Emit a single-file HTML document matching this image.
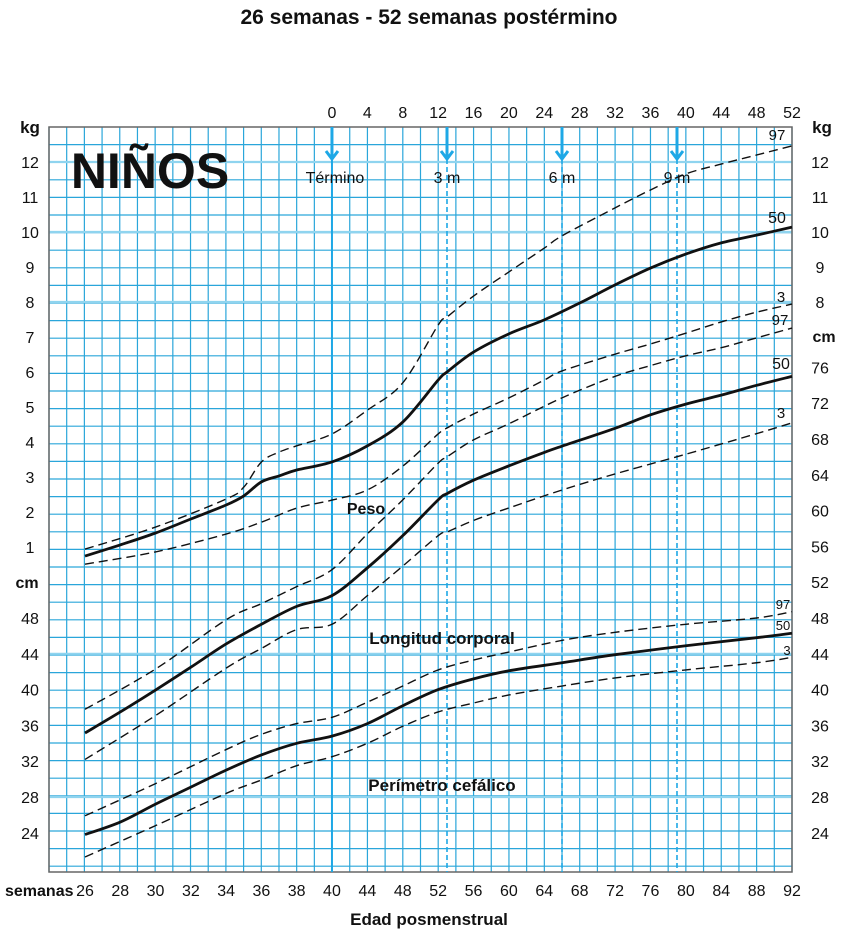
<!DOCTYPE html>
<html><head><meta charset="utf-8"><style>
body{margin:0;background:#fff}
svg{display:block;font-family:"Liberation Sans","DejaVu Sans",sans-serif}
</style></head><body>
<svg id="c" width="858" height="943" viewBox="0 0 858 943"></svg>
<script>
// ---- data ----
const weightAgesP50=[26,28,30,32,34,35,36,37,38,40,44,48,52,53,56,60,64,68,72,76,80,84,88,92];
const weightP50=[0.74,1.06,1.40,1.80,2.20,2.46,2.86,3.03,3.20,3.43,3.89,4.57,5.77,6.00,6.57,7.09,7.49,7.97,8.49,8.97,9.37,9.69,9.91,10.14];
const weightAgesP97=[26,30,34,35,36,37,38,40,44,48,52,53,56,60,64,66,72,76,80,84,88,92];
const weightP97=[0.94,1.57,2.37,2.71,3.43,3.71,3.89,4.23,4.91,5.69,7.34,7.57,8.17,8.86,9.54,9.89,10.69,11.2,11.66,11.94,12.2,12.46];
const weightAgesP3=[26,30,34,36,38,40,44,48,52,53,56,60,64,66,72,76,80,84,88,92];
const weightP3=[0.51,0.86,1.37,1.71,2.11,2.34,2.63,3.31,4.23,4.4,4.8,5.26,5.77,6.03,6.51,6.8,7.11,7.43,7.71,7.94];
const lengthAgesP50=[26,28,30,32,34,36,38,40,44,48,52,53,56,60,64,66,72,76,80,84,88,92];
const lengthP50=[35.15,37.5,39.95,42.5,45.1,47.3,49.3,50.5,53.6,57.2,61.2,61.9,63.4,65.0,66.5,67.2,69.2,70.7,71.9,72.9,74.0,75.0];
const lengthAgesP97=[26,30,34,36,38,40,44,48,52,53,56,60,66,72,76,80,84,88,92];
const lengthP97=[37.8,42.3,47.8,49.6,51.5,53.4,57.4,61.2,65.3,66.0,67.9,69.7,72.6,75.0,76.2,77.3,78.2,79.3,80.4];
const lengthAgesP3=[26,30,34,36,38,40,44,48,52,53,56,60,66,72,80,88,92];
const lengthP3=[32.2,37.1,42.4,44.6,46.7,47.3,50.5,53.8,57.2,57.6,58.9,60.3,62.3,64.1,66.3,68.6,69.8];
const headAgesP50=[26,28,30,32,34,36,38,40,44,48,52,56,60,66,72,80,88,92];
const headP50=[23.8,25.2,27.2,29.1,31.0,32.7,34.0,34.8,36.2,38.2,40.0,41.2,42.1,43.0,43.9,44.9,45.8,46.3];
const headAges=[26,30,34,36,38,40,44,48,52,56,60,66,72,80,88,92];
const headP97=[25.9,29.5,33.3,35.0,36.2,36.9,38.6,40.4,42.2,43.3,44.2,45.5,46.4,47.3,48.0,48.7];
const headP3=[21.3,24.8,28.4,29.9,31.5,32.5,34.0,35.9,37.5,38.5,39.4,40.4,41.3,42.2,43.0,43.6];
const bottomTicks=[26,28,30,32,34,36,38,40,44,48,52,56,60,64,68,72,76,80,84,88,92];
const topTicks=[0,4,8,12,16,20,24,28,32,36,40,44,48,52];
const kgLeft=[1,2,3,4,5,6,7,8,9,10,11,12];
const kgRight=[8,9,10,11,12];
const cmLeft=[24,28,32,36,40,44,48];
const cmRight=[24,28,32,36,40,44,48,52,56,60,64,68,72,76];
const markers=[{w:40,t:"Término",solid:true},{w:53,t:"3 m"},{w:66,t:"6 m"},{w:79,t:"9 m"}];

// ---- axes ----
const L=49,R=792,T=127,B=872;
function xs(w){return w<=40?85+(w-26)*17.64:332+(w-40)*8.846;}
function yk(k){return 162+(12-k)*35;}
function yc(c){return 618+(48-c)*8.95;}
const NS="http://www.w3.org/2000/svg",svg=document.getElementById('c');
function el(tag,attrs,txt){const e=document.createElementNS(NS,tag);for(const k in attrs)e.setAttribute(k,attrs[k]);if(txt!==undefined)e.textContent=txt;svg.appendChild(e);return e;}
function txt(x,y,s,size,anchor,weight,name){const e=el('text',{x:x,y:y,'font-size':size,'text-anchor':anchor||'middle','font-weight':weight||'normal',fill:'#111'},s);

return e;}

// grid
for(let i=0;i<=42;i++){const x=L+i*(R-L)/42;const g=el('line',{x1:x,y1:T,x2:x,y2:B,stroke:'#2aa6da','stroke-width':1.2});

}
for(let y=T+17.6;y<B;y+=17.6){const g=el('line',{x1:L,y1:y,x2:R,y2:y,stroke:'#2aa6da','stroke-width':1.2});

}
[12,10,8].forEach(k=>{const g=el('line',{x1:L,y1:yk(k),x2:R,y2:yk(k),stroke:'#8fd4ef','stroke-width':2.2});

});
[28,44].forEach(c=>{const g=el('line',{x1:L,y1:yc(c),x2:R,y2:yc(c),stroke:'#8fd4ef','stroke-width':2.2});

});
let bd=el('rect',{x:L,y:T,width:R-L,height:B-T,fill:'none',stroke:'#666','stroke-width':1.5});



// markers
markers.forEach(m=>{const x=xs(m.w);
const ln=el('line',{x1:x,y1:T,x2:x,y2:B,stroke:'#1ea8e6','stroke-width':m.solid?2:1.6,'stroke-dasharray':m.solid?'none':'5,3'});


const a=el('path',{d:`M${x},${T} V${T+31} M${x-6},${T+24} L${x},${T+32} L${x+6},${T+24}`,stroke:'#1ea8e6','stroke-width':3,fill:'none'});


txt(x+(m.solid?3:0),183,m.t,16,'middle','normal','age-marker-label');});

// curves
function curve(ages,vals,fy,dashed,name){
 const p=ages.map((a,i)=>[xs(a),fy(vals[i])]);
 let d=`M${p[0][0]},${p[0][1]}`;
 for(let i=0;i<p.length-1;i++){const p0=p[Math.max(0,i-1)],p1=p[i],p2=p[i+1],p3=p[Math.min(p.length-1,i+2)];
  d+=` C${p1[0]+(p2[0]-p0[0])/6},${p1[1]+(p2[1]-p0[1])/6} ${p2[0]-(p3[0]-p1[0])/6},${p2[1]-(p3[1]-p1[1])/6} ${p2[0]},${p2[1]}`;}
 const e=el('path',{d:d,fill:'none',stroke:'#111','stroke-width':dashed?1.4:2.8,'stroke-dasharray':dashed?'9,5':'none'});
 
 }
curve(weightAgesP97,weightP97,yk,true,'weight-p97-line');
curve(weightAgesP50,weightP50,yk,false,'weight-p50-line');
curve(weightAgesP3,weightP3,yk,true,'weight-p3-line');
curve(lengthAgesP97,lengthP97,yc,true,'length-p97-line');
curve(lengthAgesP50,lengthP50,yc,false,'length-p50-line');
curve(lengthAgesP3,lengthP3,yc,true,'length-p3-line');
curve(headAges,headP97,yc,true,'head-p97-line');
curve(headAgesP50,headP50,yc,false,'head-p50-line');
curve(headAges,headP3,yc,true,'head-p3-line');

// axis labels
kgLeft.forEach(k=>txt(30,yk(k)+6,String(k),16,'middle','normal','kg-tick-left'));
kgRight.forEach(k=>txt(820,yk(k)+6,String(k),16,'middle','normal','kg-tick-right'));
cmLeft.forEach(c=>txt(30,yc(c)+6,String(c),16,'middle','normal','cm-tick-left'));
cmRight.forEach(c=>txt(820,yc(c)+6,String(c),16,'middle','normal','cm-tick-right'));
bottomTicks.forEach(w=>txt(xs(w),896,String(w),16,'middle','normal','x-tick-bottom'));
topTicks.forEach(w=>txt(xs(40+w),118,String(w),16,'middle','normal','x-tick-top'));
txt(30,133,'kg',17,'middle','bold','kg-unit-left');
txt(822,133,'kg',17,'middle','bold','kg-unit-right');
txt(27,588,'cm',16,'middle','bold','cm-unit-left');
txt(824,342,'cm',16,'middle','bold','cm-unit-right');
txt(5,896,'semanas',16,'start','bold','x-unit-label');
txt(429,925,'Edad posmenstrual',17,'middle','bold','x-axis-title');
txt(429,24,'26 semanas - 52 semanas postérmino',21,'middle','bold','chart-title');
txt(150,188,'NIÑOS',50,'middle','bold','sex-label');
txt(366,514,'Peso',16,'middle','bold','weight-label');
txt(442,644,'Longitud corporal',17,'middle','bold','length-label');
txt(442,791,'Perímetro cefálico',17,'middle','bold','head-label');
// percentile labels
[[777,140,'97',15],[777,223,'50',16],[781,302,'3',15],[780,325,'97',15],[781,369,'50',16],[781,418,'3',15],[783,609,'97',13],[783,630,'50',13],[787,655,'3',13]]
.forEach(p=>txt(p[0],p[1],p[2],p[3],'middle','normal','percentile-label'));
</script>
</body></html>
